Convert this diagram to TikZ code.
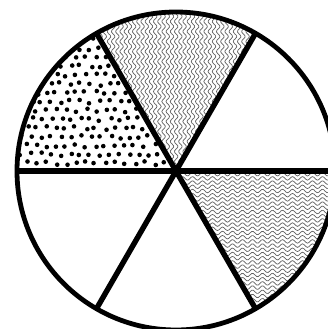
\documentclass[tikz,border=0pt]{standalone}
\begin{document}
\begin{tikzpicture}[x=1pt,y=1pt,
  wave/.style={draw=black!62,line width=0.7pt},
  spoke/.style={line width=5.4pt},
  rim/.style={line width=4.8pt}]
\useasboundingbox (0,0) rectangle (328,329);
\fill[white] (0,0) rectangle (328,329);
\coordinate (O) at (176,158);
\def\R{159}
% upper sector: vertical waves
\begin{scope}
\clip (O) -- ++(60:\R) arc (60:120:\R) -- cycle;
\foreach \i in {0,...,42}{
  \pgfmathsetmacro\xo{88+\i*4.2}
  \draw[wave] plot[variable=\t,domain=150:330,samples=110] ({\xo+1.8*sin(\t*36)},\t);
}
\end{scope}
% lower right sector: horizontal waves
\begin{scope}
\clip (O) -- ++(0:\R) arc (0:-60:\R) -- cycle;
\foreach \i in {0,...,37}{
  \pgfmathsetmacro\yo{12+\i*4.2}
  \draw[wave] plot[variable=\t,domain=170:340,samples=105] (\t,{\yo+1.8*sin(\t*36)});
}
\end{scope}
% upper left sector: dots
\begin{scope}
\clip (O) -- ++(120:\R) arc (120:180:\R) -- cycle;
\pgfmathsetseed{7}
\foreach \j in {0,...,16}{
  \foreach \i in {0,...,18}{
    \pgfmathsetmacro\px{12+\i*9.8+mod(\j,2)*4.9+2.2*rand}
    \pgfmathsetmacro\py{157+\j*8.8+1.8*rand}
    \fill (\px,\py) circle (2.3);
  }
}
\end{scope}
% spokes
\foreach \a in {0,60,120,180,240,300}{
  \draw[spoke] (O) -- ++(\a:\R);
}
\draw[rim] (O) circle (\R);
\end{tikzpicture}
\end{document}
